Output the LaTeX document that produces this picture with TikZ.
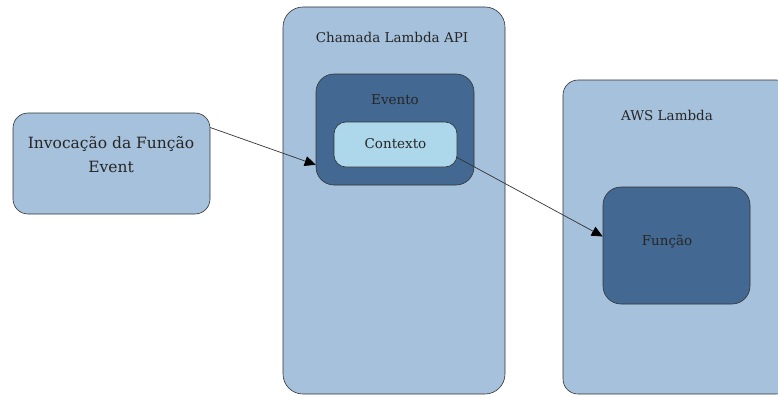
\documentclass[tikz,border=0pt]{standalone}
\usepackage{fontspec}
\setmainfont{DejaVu Serif}
\usepackage{xcolor}
\usetikzlibrary{arrows.meta}

\definecolor{paleblue}{HTML}{A5C1DB}
\definecolor{deepblue}{HTML}{436891}
\definecolor{iceblue}{HTML}{ADD8EB}
\definecolor{edgegray}{HTML}{333333}

\begin{document}
\begin{tikzpicture}[x=1pt, y=-1pt,
   box/.style={draw=edgegray, semithick, rectangle, inner sep=0pt},
   txt/.style={text=black!85, font=\fontsize{13.5}{24}\selectfont, inner sep=0pt},
   link/.style={-{Triangle[length=11pt, width=10pt, color=black]}},
   every edge/.style={draw=black!80, line width=0.7pt}]
\clip (0,0) rectangle (778,396);

\begin{scope}[every node/.style={box}]
   \node[fill=paleblue, rounded corners=15pt, minimum width=197pt, minimum height=101pt] (inv) at (111.5,163.5) {};
   \node[fill=paleblue, rounded corners=20pt, minimum width=222pt, minimum height=387pt] (chamada) at (394,200.5) {};
   \node[fill=deepblue, rounded corners=18pt, minimum width=158pt, minimum height=111pt] (evento) at (395,129.5) {};
   \node[fill=iceblue, rounded corners=12pt, minimum width=123pt, minimum height=45pt] (contexto) at (395.5,144.5) {};
   \node[fill=paleblue, rounded corners=15pt, minimum width=228pt, minimum height=314pt] (aws) at (677,237) {};
   \node[fill=deepblue, rounded corners=18pt, minimum width=147pt, minimum height=117pt] (funcao) at (676.5,245.5) {};
\end{scope}

\begin{scope}[every node/.style={txt}]
   \node[align=center, font=\fontsize{15.5}{24}\selectfont] (invTxt) at (111,155) {Invocação da Função\\Event};
   \node (chamadaTxt) at (392,37) {Chamada Lambda API};
   \node (eventoTxt) at (395,100) {Evento};
   \node (contextoTxt) at (395.5,144) {Contexto};
   \node (awsTxt) at (667,115) {AWS Lambda};
   \node (funcaoTxt) at (667,242) {Função};
\end{scope}

\path [link] (inv.20) edge (evento.204);
\path [link] (contexto.-12) edge (funcao.173);
\end{tikzpicture}
\end{document}
